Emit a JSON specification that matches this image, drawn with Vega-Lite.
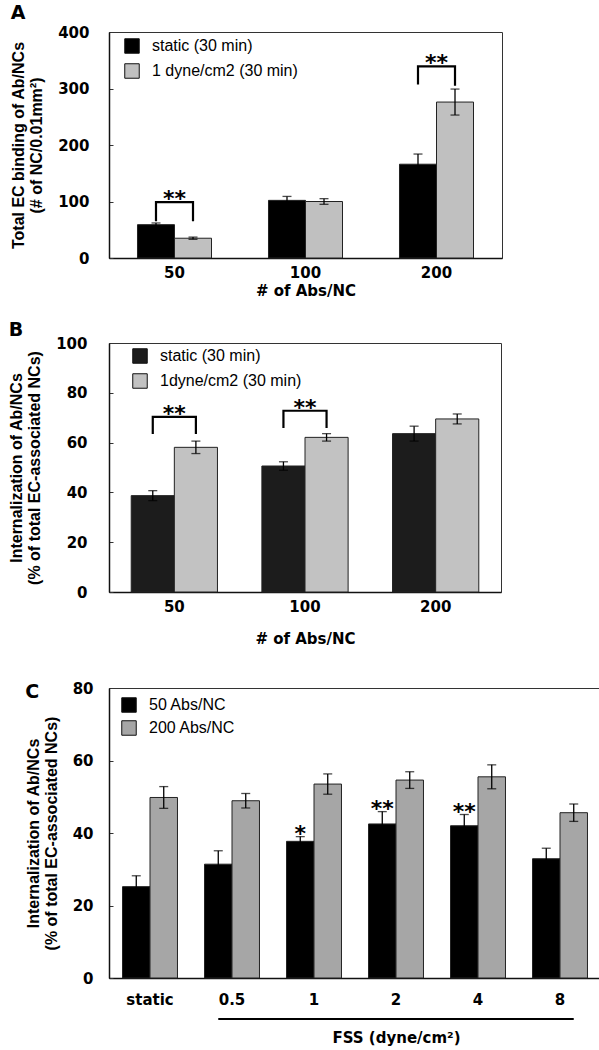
{
  "$schema": "https://vega.github.io/schema/vega-lite/v6.json",
  "background": "white",
  "padding": {"left": 8, "top": 3, "right": 5, "bottom": 2},
  "columns": 1,
  "align": "none",
  "spacing": 21,
  "resolve": {
    "scale": {"fill": "independent", "xOffset": "independent", "x": "independent", "y": "independent"},
    "legend": {"fill": "independent"}
  },
  "config": {
    "view": {"stroke": "#333", "strokeWidth": 1},
    "axis": {
      "labelFont": "DejaVu Sans", "labelFontWeight": "bold", "labelFontSize": 15, "labelColor": "black",
      "titleFont": "Liberation Sans", "titleFontWeight": "bold", "titleFontSize": 16, "titleColor": "black",
      "domainColor": "#111", "domainWidth": 1.5, "grid": false
    },
    "axisX": {"ticks": false, "labelAngle": 0, "titleFont": "DejaVu Sans", "titleFontSize": 15, "labelPadding": 7, "titlePadding": 3},
    "axisY": {"tickSize": -4, "tickColor": "#333", "titleLineHeight": 18, "titlePadding": 13},
    "legend": {
      "labelFont": "Liberation Sans", "labelFontSize": 16, "labelColor": "black",
      "symbolType": "square", "symbolSize": 210, "symbolStrokeColor": "#111", "symbolStrokeWidth": 1,
      "labelOffset": 12, "rowPadding": 5, "orient": "none"
    },
    "title": {"font": "DejaVu Sans", "fontSize": 19, "fontWeight": "bold", "anchor": "start", "frame": "bounds", "color": "black", "offset": 2}
  },
  "concat": [
    {
      "title": {"text": "A"},
      "width": 393,
      "height": 226,
      "data": {"values": [
        {"g": "50", "s": "static (30 min)", "v": 59, "lo": 56, "hi": 62},
        {"g": "50", "s": "1 dyne/cm2 (30 min)", "v": 35, "lo": 33, "hi": 37},
        {"g": "100", "s": "static (30 min)", "v": 102, "lo": 95, "hi": 109},
        {"g": "100", "s": "1 dyne/cm2 (30 min)", "v": 100, "lo": 95, "hi": 105},
        {"g": "200", "s": "static (30 min)", "v": 166, "lo": 148, "hi": 184},
        {"g": "200", "s": "1 dyne/cm2 (30 min)", "v": 276, "lo": 253, "hi": 299}
      ]},
      "encoding": {
        "x": {"field": "g", "type": "nominal", "sort": ["50", "100", "200"],
              "scale": {"paddingInner": 0.435, "paddingOuter": 0.2175},
              "axis": {"title": "# of Abs/NC"}}
      },
      "layer": [
        {
          "mark": {"type": "bar", "stroke": "#222", "strokeWidth": 1},
          "encoding": {
            "xOffset": {"field": "s", "type": "nominal", "sort": ["static (30 min)", "1 dyne/cm2 (30 min)"], "scale": {"paddingInner": 0}},
            "y": {"field": "v", "type": "quantitative", "scale": {"domain": [0, 400]},
                  "axis": {"values": [0, 100, 200, 300, 400], "labelPadding": 24, "title": ["Total EC binding of Ab/NCs", "(# of NC/0.01mm²)"]}},
            "fill": {"field": "s", "type": "nominal",
                     "scale": {"domain": ["static (30 min)", "1 dyne/cm2 (30 min)"], "range": ["#000000", "#c0c0c0"]},
                     "legend": {"title": null, "legendX": 15, "legendY": 6}}
          }
        },
        {
          "mark": {"type": "rule", "color": "black", "strokeWidth": 1.3},
          "encoding": {
            "xOffset": {"field": "s", "type": "nominal", "sort": ["static (30 min)", "1 dyne/cm2 (30 min)"]},
            "y": {"field": "lo", "type": "quantitative"}, "y2": {"field": "hi"}
          }
        },
        {
          "mark": {"type": "tick", "color": "black", "size": 9, "thickness": 1.3},
          "encoding": {
            "xOffset": {"field": "s", "type": "nominal", "sort": ["static (30 min)", "1 dyne/cm2 (30 min)"]},
            "y": {"field": "lo", "type": "quantitative"}
          }
        },
        {
          "mark": {"type": "tick", "color": "black", "size": 9, "thickness": 1.3},
          "encoding": {
            "xOffset": {"field": "s", "type": "nominal", "sort": ["static (30 min)", "1 dyne/cm2 (30 min)"]},
            "y": {"field": "hi", "type": "quantitative"}
          }
        },
        {
          "data": {"values": [
            {"g": "50", "s": "static (30 min)", "y": 65, "b": 1, "o": 1},
            {"g": "50", "s": "static (30 min)", "y": 99, "b": 1, "o": 2},
            {"g": "50", "s": "1 dyne/cm2 (30 min)", "y": 99, "b": 1, "o": 3},
            {"g": "50", "s": "1 dyne/cm2 (30 min)", "y": 65, "b": 1, "o": 4},
            {"g": "200", "s": "static (30 min)", "y": 307, "b": 2, "o": 1},
            {"g": "200", "s": "static (30 min)", "y": 339, "b": 2, "o": 2},
            {"g": "200", "s": "1 dyne/cm2 (30 min)", "y": 339, "b": 2, "o": 3},
            {"g": "200", "s": "1 dyne/cm2 (30 min)", "y": 305, "b": 2, "o": 4}
          ]},
          "mark": {"type": "line", "color": "black", "strokeWidth": 2.2, "strokeJoin": "miter"},
          "encoding": {
            "xOffset": {"field": "s", "type": "nominal", "sort": ["static (30 min)", "1 dyne/cm2 (30 min)"]},
            "y": {"field": "y", "type": "quantitative"},
            "detail": {"field": "b"},
            "order": {"field": "o"}
          }
        },
        {
          "data": {"values": [
            {"g": "50", "y": 99, "t": "**"},
            {"g": "200", "y": 339, "t": "**"}
          ]},
          "mark": {"type": "text", "font": "DejaVu Sans", "fontWeight": "bold", "fontSize": 22, "baseline": "alphabetic", "dy": 4},
          "encoding": {
            "y": {"field": "y", "type": "quantitative"},
            "text": {"field": "t"}
          }
        }
      ]
    },
    {
      "title": {"text": "B", "offset": -4},
      "width": 392,
      "height": 249,
      "data": {"values": [
        {"g": "50", "s": "static (30 min)", "v": 38.7, "lo": 36.7, "hi": 40.7},
        {"g": "50", "s": "1dyne/cm2 (30 min)", "v": 58.1, "lo": 55.6, "hi": 60.6},
        {"g": "100", "s": "static (30 min)", "v": 50.6, "lo": 48.9, "hi": 52.3},
        {"g": "100", "s": "1dyne/cm2 (30 min)", "v": 62.1, "lo": 60.6, "hi": 63.6},
        {"g": "200", "s": "static (30 min)", "v": 63.6, "lo": 60.6, "hi": 66.6},
        {"g": "200", "s": "1dyne/cm2 (30 min)", "v": 69.5, "lo": 67.5, "hi": 71.5}
      ]},
      "encoding": {
        "x": {"field": "g", "type": "nominal", "sort": ["50", "100", "200"],
              "scale": {"paddingInner": 0.34, "paddingOuter": 0.17},
              "axis": {"title": "# of Abs/NC", "titlePadding": 17}}
      },
      "layer": [
        {
          "mark": {"type": "bar", "stroke": "#222", "strokeWidth": 1},
          "encoding": {
            "xOffset": {"field": "s", "type": "nominal", "sort": ["static (30 min)", "1dyne/cm2 (30 min)"], "scale": {"paddingInner": 0}},
            "y": {"field": "v", "type": "quantitative", "scale": {"domain": [0, 100]},
                  "axis": {"values": [0, 20, 40, 60, 80, 100], "labelPadding": 26, "title": ["Internalization of Ab/NCs", "(% of total EC-associated NCs)"]}},
            "fill": {"field": "s", "type": "nominal",
                     "scale": {"domain": ["static (30 min)", "1dyne/cm2 (30 min)"], "range": ["#1c1c1c", "#c2c2c2"]},
                     "legend": {"title": null, "legendX": 23, "legendY": 5}}
          }
        },
        {
          "mark": {"type": "rule", "color": "black", "strokeWidth": 1.3},
          "encoding": {
            "xOffset": {"field": "s", "type": "nominal", "sort": ["static (30 min)", "1dyne/cm2 (30 min)"]},
            "y": {"field": "lo", "type": "quantitative"}, "y2": {"field": "hi"}
          }
        },
        {
          "mark": {"type": "tick", "color": "black", "size": 9, "thickness": 1.3},
          "encoding": {
            "xOffset": {"field": "s", "type": "nominal", "sort": ["static (30 min)", "1dyne/cm2 (30 min)"]},
            "y": {"field": "lo", "type": "quantitative"}
          }
        },
        {
          "mark": {"type": "tick", "color": "black", "size": 9, "thickness": 1.3},
          "encoding": {
            "xOffset": {"field": "s", "type": "nominal", "sort": ["static (30 min)", "1dyne/cm2 (30 min)"]},
            "y": {"field": "hi", "type": "quantitative"}
          }
        },
        {
          "data": {"values": [
            {"g": "50", "s": "static (30 min)", "y": 63.5, "b": 1, "o": 1},
            {"g": "50", "s": "static (30 min)", "y": 70.3, "b": 1, "o": 2},
            {"g": "50", "s": "1dyne/cm2 (30 min)", "y": 70.3, "b": 1, "o": 3},
            {"g": "50", "s": "1dyne/cm2 (30 min)", "y": 63.5, "b": 1, "o": 4},
            {"g": "100", "s": "static (30 min)", "y": 65.9, "b": 2, "o": 1},
            {"g": "100", "s": "static (30 min)", "y": 72.8, "b": 2, "o": 2},
            {"g": "100", "s": "1dyne/cm2 (30 min)", "y": 72.8, "b": 2, "o": 3},
            {"g": "100", "s": "1dyne/cm2 (30 min)", "y": 65.9, "b": 2, "o": 4}
          ]},
          "mark": {"type": "line", "color": "black", "strokeWidth": 2.2, "strokeJoin": "miter"},
          "encoding": {
            "xOffset": {"field": "s", "type": "nominal", "sort": ["static (30 min)", "1dyne/cm2 (30 min)"]},
            "y": {"field": "y", "type": "quantitative"},
            "detail": {"field": "b"},
            "order": {"field": "o"}
          }
        },
        {
          "data": {"values": [
            {"g": "50", "y": 70.3, "t": "**"},
            {"g": "100", "y": 72.8, "t": "**"}
          ]},
          "mark": {"type": "text", "font": "DejaVu Sans", "fontWeight": "bold", "fontSize": 22, "baseline": "alphabetic", "dy": 4},
          "encoding": {
            "y": {"field": "y", "type": "quantitative"},
            "text": {"field": "t"}
          }
        }
      ]
    },
    {
      "title": {"text": ["", "C"], "offset": -21, "lineHeight": 14},
      "width": 492,
      "height": 290,
      "data": {"values": [
        {"g": "static", "s": "50 Abs/NC", "v": 25.2, "lo": 22.2, "hi": 28.2, "sig": ""},
        {"g": "static", "s": "200 Abs/NC", "v": 49.8, "lo": 46.8, "hi": 52.8, "sig": ""},
        {"g": "0.5", "s": "50 Abs/NC", "v": 31.4, "lo": 27.7, "hi": 35.1, "sig": ""},
        {"g": "0.5", "s": "200 Abs/NC", "v": 48.9, "lo": 46.9, "hi": 50.9, "sig": ""},
        {"g": "1", "s": "50 Abs/NC", "v": 37.7, "lo": 36.4, "hi": 39.0, "sig": "*"},
        {"g": "1", "s": "200 Abs/NC", "v": 53.5, "lo": 50.7, "hi": 56.3, "sig": ""},
        {"g": "2", "s": "50 Abs/NC", "v": 42.5, "lo": 39.1, "hi": 45.9, "sig": "**"},
        {"g": "2", "s": "200 Abs/NC", "v": 54.6, "lo": 52.3, "hi": 56.9, "sig": ""},
        {"g": "4", "s": "50 Abs/NC", "v": 42.0, "lo": 38.9, "hi": 45.1, "sig": "**"},
        {"g": "4", "s": "200 Abs/NC", "v": 55.5, "lo": 52.2, "hi": 58.8, "sig": ""},
        {"g": "8", "s": "50 Abs/NC", "v": 32.9, "lo": 30.0, "hi": 35.8, "sig": ""},
        {"g": "8", "s": "200 Abs/NC", "v": 45.6, "lo": 43.2, "hi": 48.0, "sig": ""}
      ]},
      "encoding": {
        "x": {"field": "g", "type": "nominal", "sort": ["static", "0.5", "1", "2", "4", "8"],
              "scale": {"paddingInner": 0.33, "paddingOuter": 0.165},
              "axis": {"title": "FSS (dyne/cm²)", "labelPadding": 14, "titlePadding": 23, "titleX": 287}},
        "xOffset": {"field": "s", "type": "nominal", "sort": ["50 Abs/NC", "200 Abs/NC"], "scale": {"paddingInner": 0}}
      },
      "layer": [
        {
          "mark": {"type": "bar", "stroke": "#222", "strokeWidth": 1},
          "encoding": {
            "y": {"field": "v", "type": "quantitative", "scale": {"domain": [0, 80]},
                  "axis": {"values": [0, 20, 40, 60, 80], "labelPadding": 20, "title": ["Internalization of Ab/NCs", "(% of total EC-associated NCs)"]}},
            "fill": {"field": "s", "type": "nominal",
                     "scale": {"domain": ["50 Abs/NC", "200 Abs/NC"], "range": ["#000000", "#a6a6a6"]},
                     "legend": {"title": null, "legendX": 12, "legendY": 9, "rowPadding": 3}}
          }
        },
        {
          "mark": {"type": "rule", "color": "black", "strokeWidth": 1.3},
          "encoding": {"y": {"field": "lo", "type": "quantitative"}, "y2": {"field": "hi"}}
        },
        {
          "mark": {"type": "tick", "color": "black", "size": 9, "thickness": 1.3},
          "encoding": {"y": {"field": "lo", "type": "quantitative"}}
        },
        {
          "mark": {"type": "tick", "color": "black", "size": 9, "thickness": 1.3},
          "encoding": {"y": {"field": "hi", "type": "quantitative"}}
        },
        {
          "transform": [{"filter": "datum.sig != ''"}],
          "mark": {"type": "text", "font": "DejaVu Sans", "fontWeight": "bold", "fontSize": 22, "baseline": "alphabetic", "dy": 4},
          "encoding": {
            "y": {"field": "hi", "type": "quantitative"},
            "text": {"field": "sig"}
          }
        },
        {
          "data": {"values": [
            {"g": "0.5", "s": "50 Abs/NC"},
            {"g": "8", "s": "200 Abs/NC"}
          ]},
          "mark": {"type": "line", "color": "black", "strokeWidth": 2},
          "encoding": {
            "y": {"datum": -11.3}
          }
        }
      ]
    }
  ]
}
